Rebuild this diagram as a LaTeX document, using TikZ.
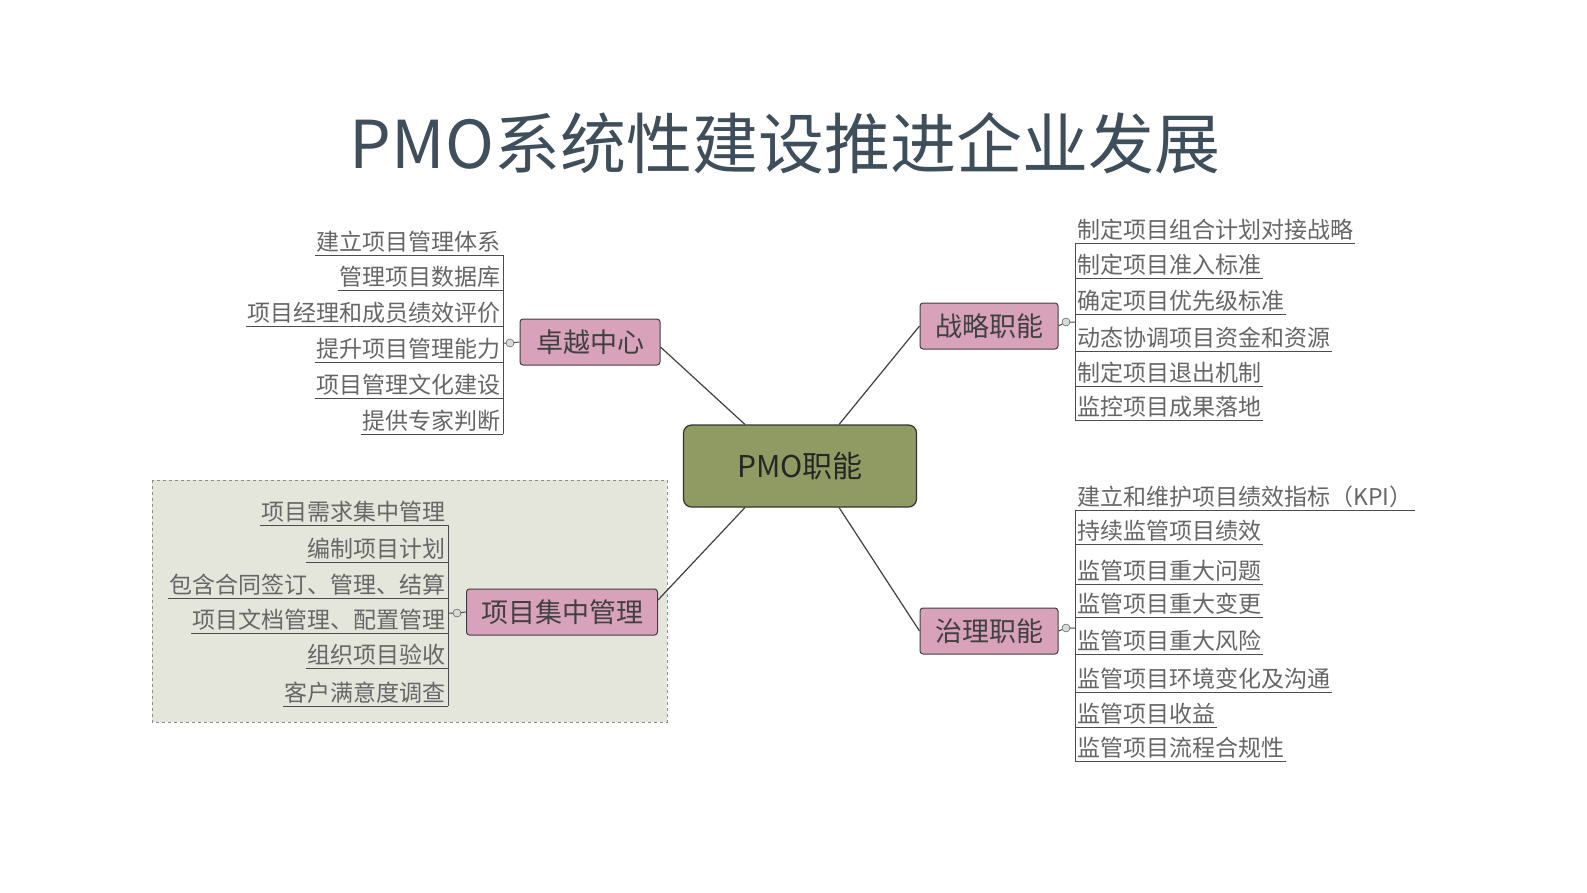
\documentclass[tikz,border=0pt]{standalone}
\usepackage{fontspec}
\newfontfamily\cjk{Noto Sans CJK SC}
\begin{document}
\begin{tikzpicture}[x=1pt,y=-1pt,
  leaf/.style={font=\cjk\fontsize{23}{23}\selectfont, text=black!60, inner sep=2pt},
  uline/.style={draw=black!70, line width=1pt},
  sub/.style={draw=black!75, line width=1pt, fill={rgb,255:red,216;green,162;blue,187}, rounded corners=3pt, minimum height=46pt, font=\cjk\fontsize{27}{27}\selectfont, text=black!75},
  link/.style={draw=black!75, line width=1.2pt},
  dot/.style={circle, draw=black!75, fill=black!15, inner sep=0pt, minimum size=8pt}]
\useasboundingbox (0,0) rectangle (1587,892);
\fill[white] (0,0) rectangle (1587,892);
\node[font=\cjk\fontsize{66}{66}\selectfont, text={rgb,255:red,62;green,78;blue,90}] (title) at (785,143) {PMO系统性建设推进企业发展};
\draw[dashed, draw=black!45, fill={rgb,255:red,228;green,230;blue,220}] (152,480) rectangle (667,722);
\node[draw=black!80, line width=1.2pt, fill={rgb,255:red,143;green,155;blue,98}, rounded corners=8pt, minimum width=233pt, minimum height=82pt, font=\cjk\fontsize{30}{30}\selectfont, text=black!85] (c) at (800,466) {PMO职能};
\node[sub, minimum width=140pt] (zy) at (590,342) {卓越中心};
\node[sub, minimum width=138pt] (zl) at (989,326) {战略职能};
\node[sub, minimum width=191pt] (jz) at (562,612) {项目集中管理};
\node[sub, minimum width=138pt] (zhl) at (989,631) {治理职能};
\path (c.north west) ++(62,0) coordinate (cnw) (c.north east) ++(-78,0) coordinate (cne)
      (c.south west) ++(62,0) coordinate (csw) (c.south east) ++(-78,0) coordinate (cse);
\draw[link] (zy.east) ++(0,5) -- (cnw);
\draw[link] (zl.west) -- (cne);
\draw[link] (jz.east) ++(0,-12) -- (csw);
\draw[link] (zhl.west) -- (cse);
\foreach \t/\y [count=\i] in {建立项目管理体系/255,管理项目数据库/290,项目经理和成员绩效评价/326,提升项目管理能力/362,项目管理文化建设/398,提供专家判断/434}{
  \node[leaf, anchor=south east] (a\i) at (503,\y) {\t};
  \draw[uline] (a\i.south west) -- (a\i.south east);
}
\draw[uline] (a1.south east) -- (a6.south east);
\node[dot] (d1) at (510,343) {};
\draw[uline] (zy.west) -- (d1) -- (503,343);
\foreach \t/\y [count=\i] in {项目需求集中管理/525,编制项目计划/562,包含合同签订、管理、结算/598,项目文档管理、配置管理/633,组织项目验收/668,客户满意度调查/706}{
  \node[leaf, anchor=south east] (b\i) at (448,\y) {\t};
  \draw[uline] (b\i.south west) -- (b\i.south east);
}
\draw[uline] (b1.south east) -- (b6.south east);
\node[dot] (d2) at (457,613) {};
\draw[uline] (jz.west) -- (d2) -- (448,613);
\foreach \t/\y [count=\i] in {制定项目组合计划对接战略/243,制定项目准入标准/278,确定项目优先级标准/314,动态协调项目资金和资源/351,制定项目退出机制/386,监控项目成果落地/420}{
  \node[leaf, anchor=south west] (r\i) at (1075,\y) {\t};
  \draw[uline] (r\i.south west) -- (r\i.south east);
}
\draw[uline] (r1.south west) -- (r6.south west);
\node[dot] (d3) at (1066,322) {};
\draw[uline] (zl.east) -- (d3) -- (1075,322);
\foreach \t/\y [count=\i] in {建立和维护项目绩效指标（KPI）/510,持续监管项目绩效/544,监管项目重大问题/584,监管项目重大变更/617,监管项目重大风险/654,监管项目环境变化及沟通/692,监管项目收益/727,监管项目流程合规性/761}{
  \node[leaf, anchor=south west] (g\i) at (1075,\y) {\t};
  \draw[uline] (g\i.south west) -- (g\i.south east);
}
\draw[uline] (g1.south west) -- (g8.south west);
\node[dot] (d4) at (1066,628) {};
\draw[uline] (zhl.east) -- (d4) -- (1075,628);
\end{tikzpicture}
\end{document}
